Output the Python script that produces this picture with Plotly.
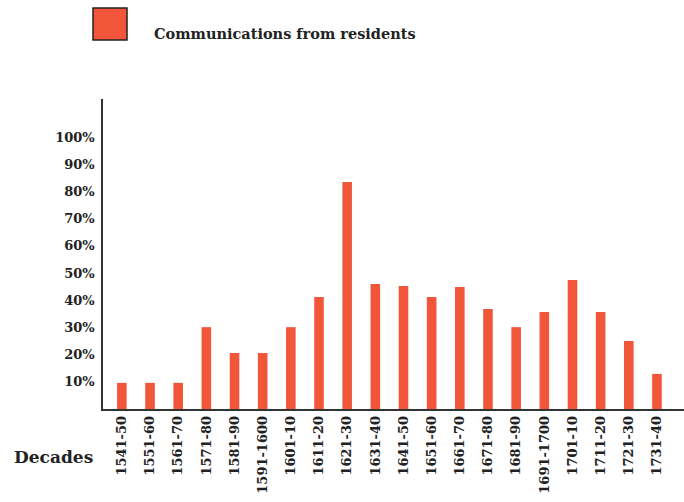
import plotly.graph_objects as go

decades = ["1541-50", "1551-60", "1561-70", "1571-80", "1581-90", "1591-1600",
           "1601-10", "1611-20", "1621-30", "1631-40", "1641-50", "1651-60",
           "1661-70", "1671-80", "1681-90", "1691-1700", "1701-10", "1711-20",
           "1721-30", "1731-40"]
residents_pct = [9.6, 9.6, 9.6, 30.1, 20.6, 20.6, 30.1, 41.2, 83.5, 46.0, 45.2, 41.2,
                 44.9, 36.8, 30.1, 35.7, 47.4, 35.7, 25.0, 12.9]
y_ticks = [10, 20, 30, 40, 50, 60, 70, 80, 90, 100]
y_tick_labels = [f"{v}%" for v in y_ticks]

BAR = "#F1563A"
FONT = "DejaVu Serif"

fig = go.Figure()
fig.add_trace(go.Bar(
    x=decades, y=residents_pct, marker=dict(color=BAR, line=dict(width=0)),
    width=0.34, name="Communications from residents", showlegend=False,
))

fig.update_layout(
    width=684, height=502,
    margin=dict(l=103, r=0, t=99, b=93, autoexpand=False),
    plot_bgcolor="white", paper_bgcolor="white",
    font=dict(family=FONT, color="#222"),
    xaxis=dict(
        type="category", range=[-0.67, 19.96], showgrid=False, ticks="",
        showline=True, linecolor="#333", linewidth=1.5, automargin=False,
        tickangle=-90, tickfont=dict(family=FONT, size=13, weight="bold", color="#222"),
    ),
    yaxis=dict(
        range=[0, 114], tickvals=y_ticks, ticktext=y_tick_labels, showgrid=False,
        zeroline=False, automargin=False,
        ticks="", showline=True, linecolor="#333", linewidth=1.5,
        tickfont=dict(family=FONT, size=13, weight="bold", color="#222"),
        ticklabelstandoff=4,
    ),
    shapes=[dict(type="rect", xref="paper", yref="paper",
                 x0=(93 - 103) / 581, x1=(127 - 103) / 581,
                 y0=(409 - 40) / 310, y1=(409 - 8) / 310,
                 fillcolor=BAR, line=dict(color="#222", width=1.5))],
    annotations=[
        dict(text="<b>Communications from residents</b>", xref="paper", yref="paper",
             x=(152 - 103) / 581, y=(409 - 34) / 310, xanchor="left", yanchor="middle",
             showarrow=False, font=dict(family=FONT, size=14.5, color="#222")),
        dict(text="<b>Decades</b>", xref="paper", yref="paper",
             x=(12 - 103) / 581, y=(409 - 457) / 310, xanchor="left", yanchor="middle",
             showarrow=False, font=dict(family=FONT, size=17, color="#222")),
    ],
)

fig.write_html("out.html", config={"displayModeBar": False},
               post_script="document.body.style.margin='0';")
